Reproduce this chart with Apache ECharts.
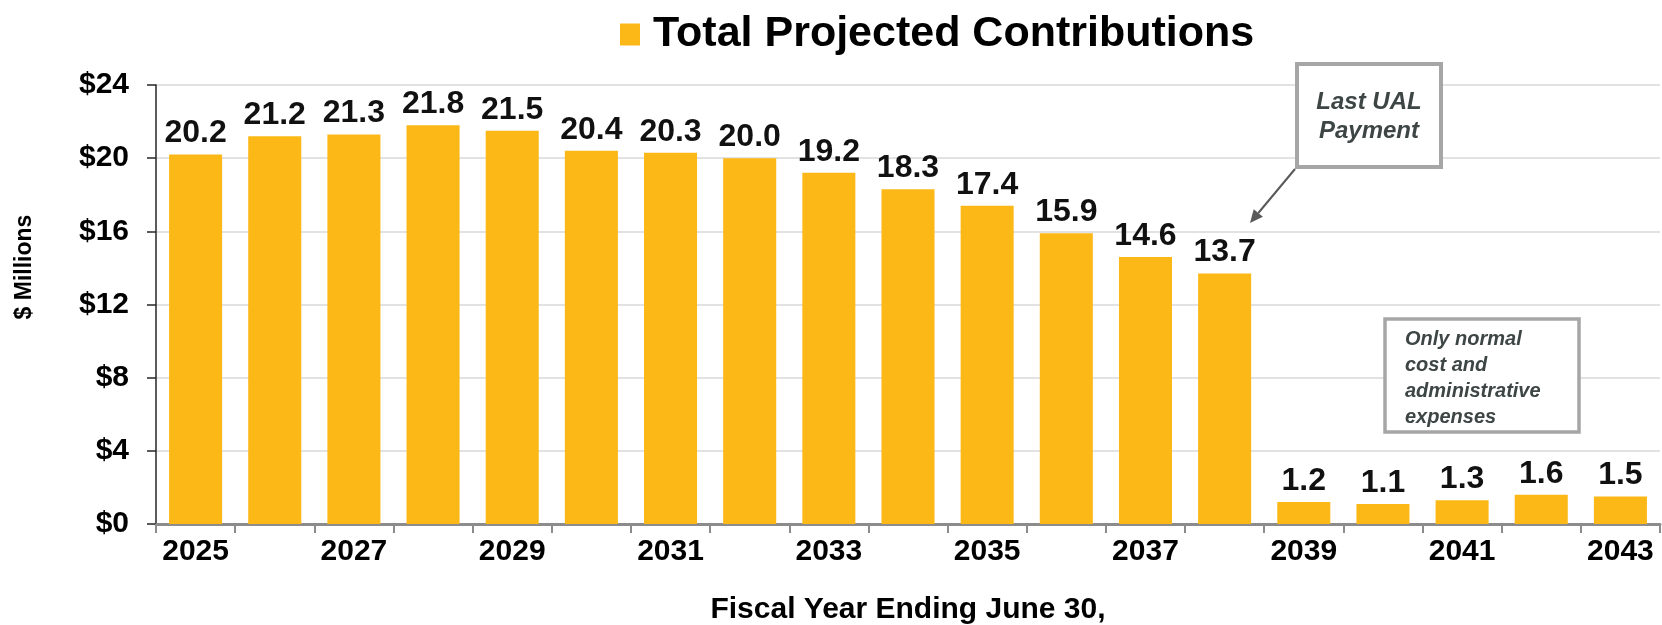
<!DOCTYPE html>
<html>
<head>
<meta charset="utf-8">
<title>Total Projected Contributions</title>
<script src="https://cdn.jsdelivr.net/npm/echarts@6/dist/echarts.min.js"></script>
<style>
  html, body { margin: 0; padding: 0; background: #ffffff; }
  #chart { width: 1662px; height: 625px; }
</style>
</head>
<body>
<div id="chart"></div>
<script>
// Fiscal years (ending June 30) and projected contributions, $ millions
const years = ['2025', '2026', '2027', '2028', '2029', '2030', '2031', '2032', '2033', '2034',
               '2035', '2036', '2037', '2038', '2039', '2040', '2041', '2042', '2043'];
const contributions = [20.2, 21.2, 21.3, 21.8, 21.5, 20.4, 20.3, 20.0, 19.2, 18.3,
                       17.4, 15.9, 14.6, 13.7, 1.2, 1.1, 1.3, 1.6, 1.5];
const yMin = 0;
const yMax = 24;
const yStep = 4;

const FONT = '"Liberation Sans", Arial, Helvetica, sans-serif';
const BAR_COLOR = '#FBB817';
const NOTE_COLOR = '#3D4545';

const chart = echarts.init(document.getElementById('chart'), null, { renderer: 'canvas' });

// Arrow from the "Last UAL Payment" note down toward the 2038 bar
const arrowFrom = [1295, 169];
const arrowTo = [1250, 223];
function arrowHead(from, to, len, half) {
  const dx = to[0] - from[0], dy = to[1] - from[1];
  const d = Math.sqrt(dx * dx + dy * dy);
  const ux = dx / d, uy = dy / d;
  const bx = to[0] - ux * len, by = to[1] - uy * len;
  return {
    base: [bx, by],
    points: [[to[0], to[1]], [bx - uy * half, by + ux * half], [bx + uy * half, by - ux * half]]
  };
}
const head = arrowHead(arrowFrom, arrowTo, 13, 6);

const option = {
  backgroundColor: '#ffffff',
  textStyle: { fontFamily: FONT },
  animation: false,
  legend: {
    left: 615,
    top: 8,
    icon: 'rect',
    itemWidth: 20,
    itemHeight: 22,
    selectedMode: false,
    textStyle: {
      fontFamily: FONT,
      fontSize: 43,
      fontWeight: 'bold',
      color: '#000000',
      padding: [0, 0, 0, 8]
    }
  },
  grid: {
    left: 156,
    right: 2,
    top: 85,
    bottom: 101,
    containLabel: false,
    outerBoundsMode: 'none'
  },
  xAxis: {
    type: 'category',
    data: years,
    boundaryGap: true,
    name: 'Fiscal Year Ending June 30,',
    nameLocation: 'middle',
    nameGap: 71,
    nameTextStyle: {
      fontFamily: FONT,
      fontSize: 30,
      fontWeight: 'bold',
      color: '#000000'
    },
    axisLine: { show: true, lineStyle: { color: '#8C8C8C', width: 3 } },
    axisTick: {
      show: true,
      interval: 0,
      length: 9,
      lineStyle: { color: '#8C8C8C', width: 2 }
    },
    axisLabel: {
      interval: 1,
      margin: 13,
      fontFamily: FONT,
      fontSize: 30,
      fontWeight: 'bold',
      color: '#000000'
    },
    splitLine: { show: false }
  },
  yAxis: {
    type: 'value',
    min: yMin,
    max: yMax,
    interval: yStep,
    axisLine: { show: true, lineStyle: { color: '#262626', width: 1.5 } },
    axisTick: { show: true, length: 9, lineStyle: { color: '#262626', width: 1.5 } },
    axisLabel: {
      margin: 27,
      fontFamily: FONT,
      fontSize: 30,
      fontWeight: 'bold',
      color: '#000000',
      formatter: function (v) { return '$' + v; }
    },
    splitLine: { show: true, lineStyle: { color: '#D9D9D9', width: 1.5 } }
  },
  series: [{
    name: 'Total Projected Contributions',
    type: 'bar',
    data: contributions,
    barCategoryGap: '33%',
    itemStyle: { color: BAR_COLOR },
    label: {
      show: true,
      position: 'top',
      distance: 5,
      fontFamily: FONT,
      fontSize: 32,
      fontWeight: 'bold',
      color: '#111111',
      formatter: function (p) { return p.value.toFixed(1); }
    }
  }],
  graphic: [
    {
      type: 'text',
      x: 25,
      y: 267,
      rotation: Math.PI / 2,
      style: {
        text: '$ Millions',
        fontFamily: FONT,
        fontSize: 23,
        fontWeight: 'bold',
        fill: '#000000',
        align: 'center',
        verticalAlign: 'middle'
      }
    },
    // "Last UAL Payment" note
    {
      type: 'rect',
      shape: { x: 1297, y: 64, width: 144, height: 103 },
      style: { fill: '#ffffff', stroke: '#A6A6A6', lineWidth: 4 },
      z: 10
    },
    {
      type: 'text',
      x: 1369,
      y: 117,
      style: {
        text: 'Last UAL\nPayment',
        fontFamily: FONT,
        fontSize: 24,
        fontWeight: 'bold',
        fontStyle: 'italic',
        lineHeight: 29,
        fill: NOTE_COLOR,
        align: 'center',
        verticalAlign: 'middle'
      },
      z: 11
    },
    {
      type: 'line',
      shape: { x1: arrowFrom[0], y1: arrowFrom[1], x2: head.base[0], y2: head.base[1] },
      style: { stroke: '#595959', lineWidth: 2 },
      z: 10
    },
    {
      type: 'polygon',
      shape: { points: head.points },
      style: { fill: '#595959' },
      z: 10
    },
    // "Only normal cost..." note
    {
      type: 'rect',
      shape: { x: 1385, y: 319, width: 194, height: 113 },
      style: { fill: '#ffffff', stroke: '#A6A6A6', lineWidth: 3.5 },
      z: 10
    },
    {
      type: 'text',
      x: 1405,
      y: 326,
      style: {
        text: 'Only normal\ncost and\nadministrative\nexpenses',
        fontFamily: FONT,
        fontSize: 20,
        fontWeight: 'bold',
        fontStyle: 'italic',
        lineHeight: 26,
        fill: NOTE_COLOR,
        align: 'left',
        verticalAlign: 'top'
      },
      z: 11
    }
  ]
};

chart.setOption(option);
</script>
</body>
</html>
